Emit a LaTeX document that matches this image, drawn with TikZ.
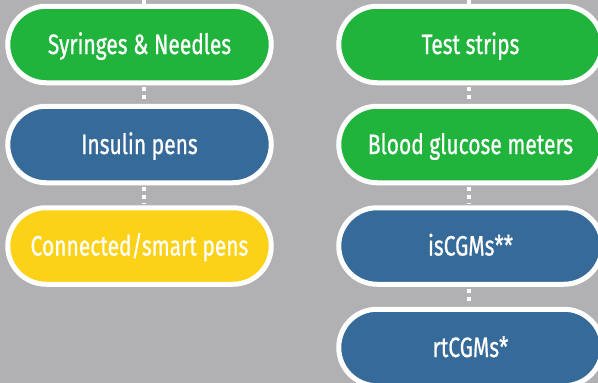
\documentclass[tikz,border=0pt]{standalone}
\usepackage{fontspec}
\setmainfont{Fira Sans}[FakeStretch=0.75, FakeBold=0.7]
\usetikzlibrary{shapes.misc}
\definecolor{bggray}{RGB}{177,177,179}
\definecolor{pgreen}{RGB}{33,180,61}
\definecolor{pblue}{RGB}{54,106,152}
\definecolor{pyellow}{RGB}{252,210,24}
\tikzset{
  pill/.style={rounded rectangle, draw=white, line width=5pt, minimum width=263.5pt,
    minimum height=76.5pt, inner sep=0pt, text=white,
    font=\fontsize{28}{30}\selectfont, text height=20pt, text depth=1pt},
  dotline/.style={draw=white, line width=4pt, dash pattern=on 4pt off 4pt}
}
\begin{document}
\begin{tikzpicture}[x=1pt,y=-1pt]
\fill[bggray] (0,0) rectangle (598,383);
\useasboundingbox (0,0) rectangle (598,383);
% left column
\coordinate (ltop) at (143.5,0);
\coordinate (rtop) at (468.5,0);
\node[pill, fill=pgreen] (syr) at (139.5,44.5) {Syringes \& Needles};
\node[pill, fill=pblue] (ins) at (139.5,144.5) {Insulin pens};
\node[pill, fill=pyellow] (con) at (139.5,246) {Connected/smart pens};
% right column
\node[pill, fill=pgreen] (tst) at (470.5,44.5) {Test strips};
\node[pill, fill=pgreen] (bgm) at (470.5,144.5) {Blood glucose meters};
\node[pill, fill=pblue] (isc) at (470.5,246) {isCGMs**};
\node[pill, fill=pblue] (rtc) at (470.5,347.5) {rtCGMs*};
% connectors
\draw[dotline] (ltop) -- (ltop |- syr.north);
\draw[dotline] (143.5,87) -- (143.5,102.5);
\draw[dotline] (143.5,187) -- (143.5,204);
\draw[dotline] (rtop) -- (rtop |- tst.north);
\draw[dotline] (468.5,87) -- (468.5,102.5);
\draw[dotline] (468.5,187) -- (468.5,204);
\draw[dotline] (468.5,289) -- (468.5,305);
\end{tikzpicture}
\end{document}
